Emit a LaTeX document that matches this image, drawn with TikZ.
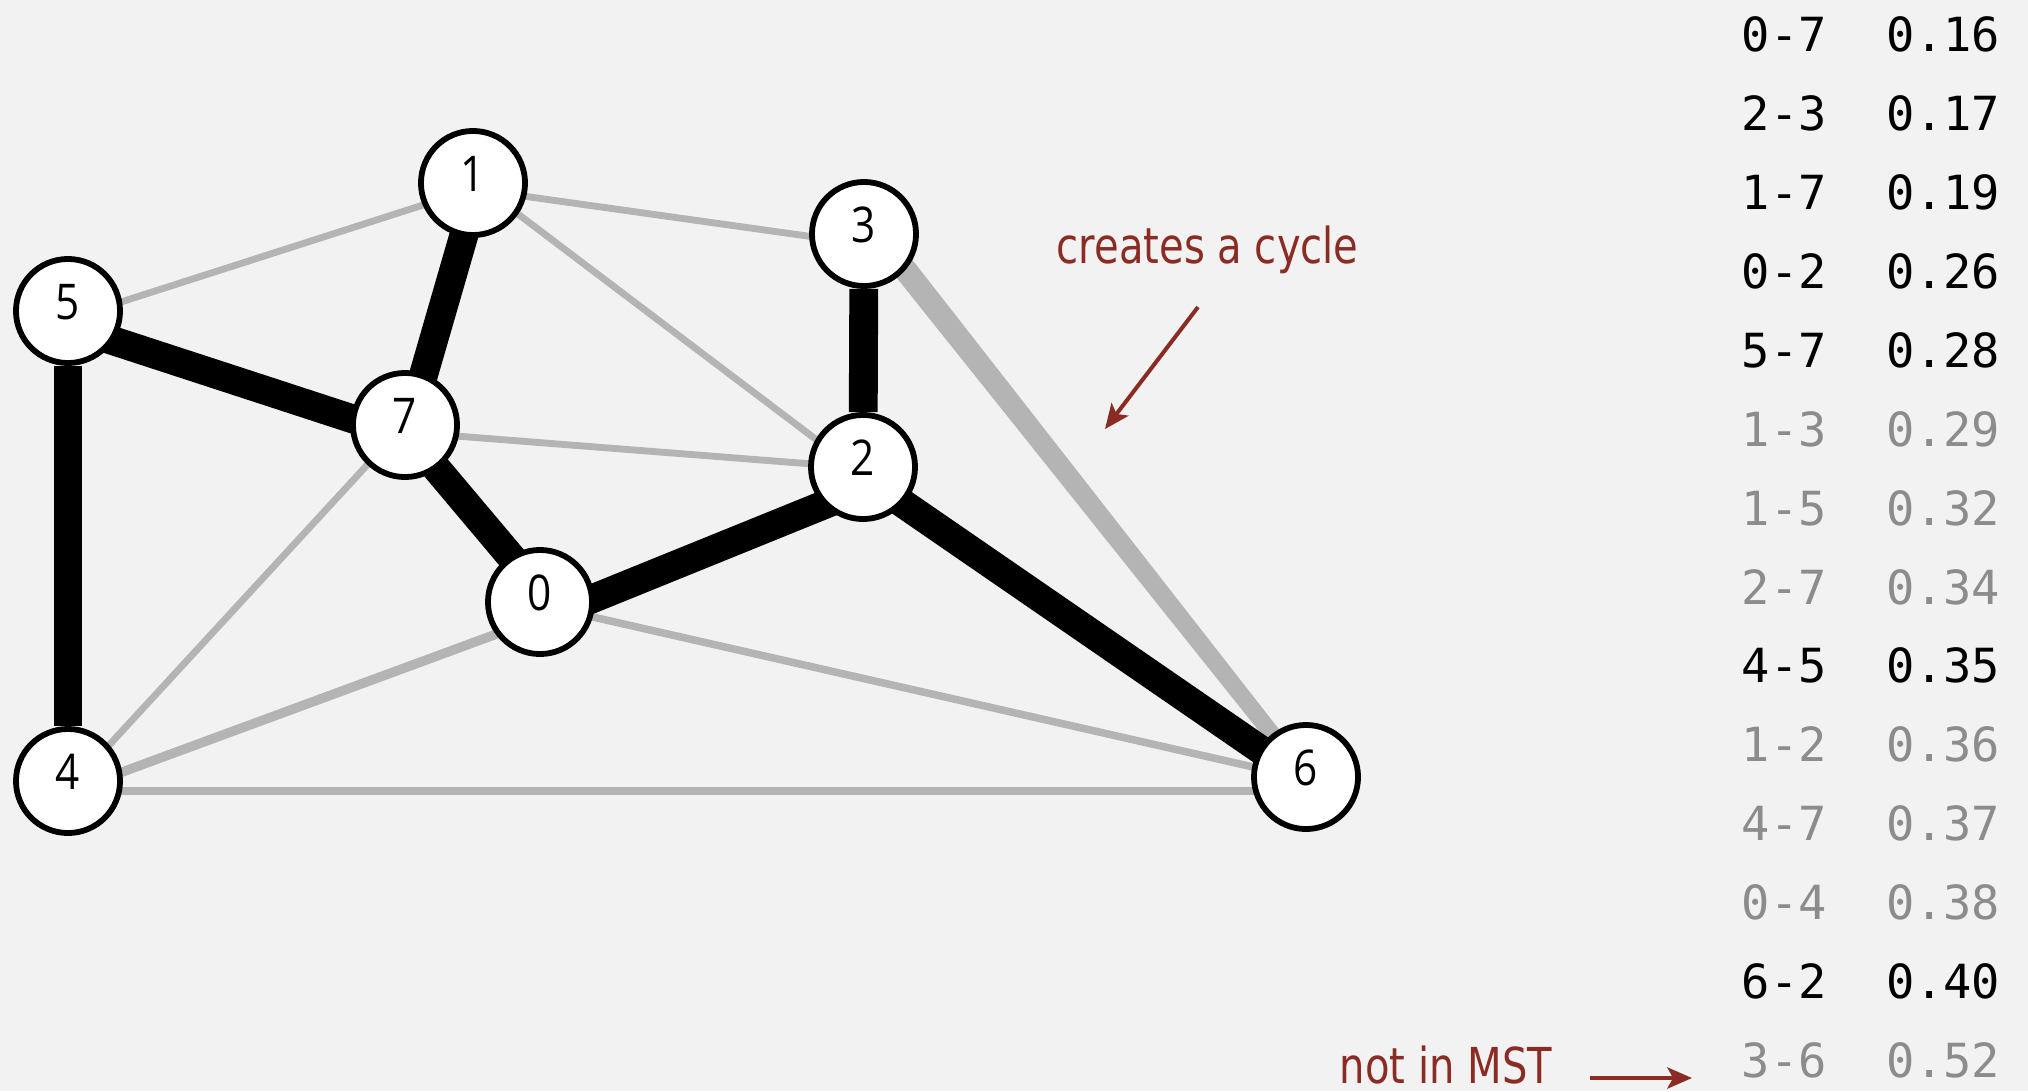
\documentclass[tikz,border=0pt]{standalone}
\usepackage{fontspec}
\usetikzlibrary{calc,arrows.meta}
\newfontfamily\nodefont[FakeStretch=0.86]{Open Sans}
\newfontfamily\tabfont{DejaVu Sans Mono}
\newfontfamily\notefont[FakeStretch=0.81]{DejaVu Sans}
\definecolor{bgc}{HTML}{F2F2F2}
\definecolor{edgegray}{HTML}{B4B4B4}
\definecolor{txtgray}{HTML}{8C8C8C}
\definecolor{notered}{HTML}{8B2C24}
\pgfdeclarelayer{bg}
\pgfdeclarelayer{edges}
\pgfsetlayers{bg,edges,main}
\begin{document}
\begin{tikzpicture}[x=0.01cm,y=-0.01cm,
  vert/.style={circle,draw=black,fill=white,line width=1.65pt,minimum size=1.04cm,inner sep=0pt,
    font=\nodefont\fontsize{14}{16}\selectfont,text height=10pt,text depth=5.1pt},
  mstedge/.style={line width=8.2pt,black},
  grayedge/.style={line width=1.95pt,edgegray},
  cycleedge/.style={fill=edgegray},
  tab/.style={anchor=base west,inner sep=0pt,font=\tabfont\fontsize{13.37}{15}\selectfont},
  note/.style={anchor=base west,inner sep=0pt,text=notered,font=\notefont\fontsize{14.08}{16}\selectfont},
  redarrow/.style={draw=notered,line width=1.14pt,-{Stealth[length=7pt,width=6pt,inset=1.6pt]}}
]
\begin{pgfonlayer}{bg}
\fill[bgc] (0,0) rectangle (2028,1091);
\end{pgfonlayer}
\useasboundingbox (0,0) rectangle (2028,1091);

% vertices
\node[vert] (n0) at (540,602) {0};
\node[vert] (n1) at (473,183) {1};
\node[vert] (n2) at (863,467) {2};
\node[vert] (n3) at (864,234) {3};
\node[vert] (n4) at (68,781) {4};
\node[vert] (n5) at (68,311) {5};
\node[vert] (n6) at (1306,777) {6};
\node[vert] (n7) at (405,425) {7};

\begin{pgfonlayer}{edges}
% non-tree edges
\draw[grayedge] ($(n1)+(0,6)$) -- ($(n3)+(0,10)$);
\draw[grayedge] ($(n1)+(0,6)$) -- ($(n5)+(0,8)$);
\draw[grayedge] ($(n1)+(0,-3)$) -- ($(n2)+(0,8)$);
\draw[grayedge] ($(n7)+(0,7)$) -- ($(n2)+(0,1)$);
\draw[grayedge] ($(n4)+(8,0)$) -- ($(n7)+(-1,0)$);
\draw[grayedge,line width=2.7pt] ($(n4)+(0,11)$) -- ($(n0)+(0,16)$);
\draw[grayedge,line width=2.15pt] ($(n0)+(0,3)$) -- ($(n6)+(0,2)$);
\draw[grayedge,line width=2.15pt] ($(n4)+(0,10)$) -- ($(n6)+(0,14)$);
% edge under consideration (tapered band 3-6)
\fill[cycleedge] ($(n3)+(22.4,-7.4)$) -- ($(n6)+(6.3,-5.0)$) -- ($(n6)+(-6.3,5.0)$) -- ($(n3)+(3.6,7.4)$) -- cycle;
% MST edges
\draw[mstedge] (n5) -- (n4);
\draw[mstedge] ($(n5)+(0,15)$) -- ($(n7)+(0,11)$);
\draw[mstedge] ($(n1)+(6,0)$) -- ($(n7)+(4,0)$);
\draw[mstedge] ($(n7)+(-5,0)$) -- ($(n0)+(9,0)$);
\draw[mstedge] ($(n0)+(0,18)$) -- ($(n2)+(0,22)$);
\draw[mstedge] (n2) -- (n3);
\draw[mstedge] ($(n2)+(0,9)$) -- ($(n6)+(0,4)$);
\end{pgfonlayer}

% sorted edge list
\foreach \e/\w/\c [count=\k from 0] in {0-7/0.16/black,2-3/0.17/black,1-7/0.19/black,0-2/0.26/black,5-7/0.28/black,1-3/0.29/txtgray,1-5/0.32/txtgray,2-7/0.34/txtgray,4-5/0.35/black,1-2/0.36/txtgray,4-7/0.37/txtgray,0-4/0.38/txtgray,6-2/0.40/black,3-6/0.52/txtgray}{
  \node[tab,text=\c] (e\k) at (1741,{51.7+78.9*\k}) {\e};
  \node[tab,text=\c] (w\k) at (1886,{51.7+78.9*\k}) {\w};
}

% annotations
\node[note] (cyc) at (1056,263) {creates a cycle};
\coordinate (cycA) at (1198,307);
\coordinate (cycB) at (1105,429);
\draw[redarrow] (cycA) -- (cycB);

\node[note] (nim) at (1339,1083) {not in MST};
\coordinate (nimA) at (1590,1078);
\coordinate (nimB) at (1692,1078);
\draw[redarrow] (nimA) -- (nimB);
\end{tikzpicture}
\end{document}
